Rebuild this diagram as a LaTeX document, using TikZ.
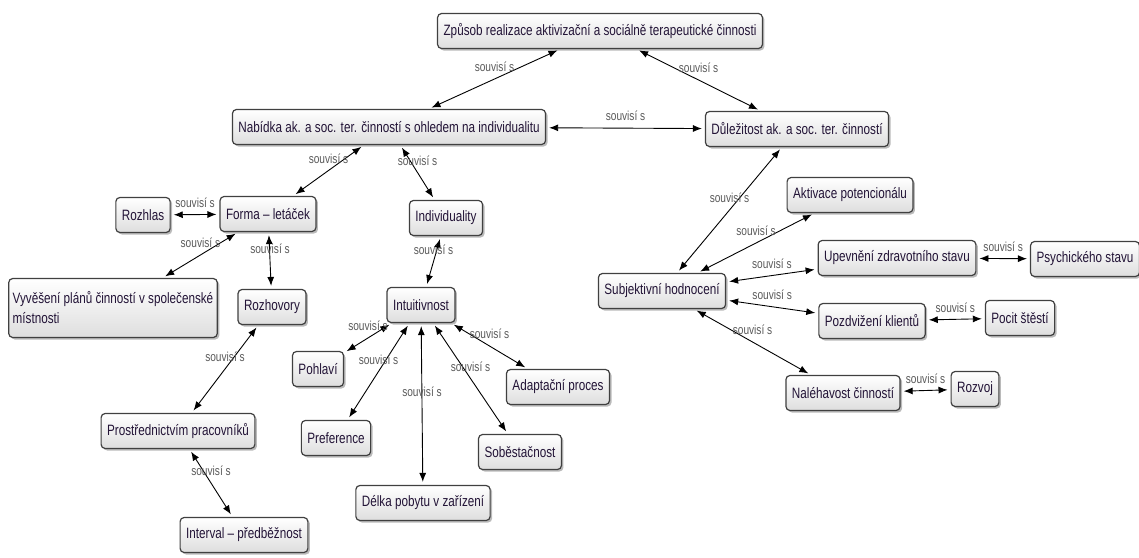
\documentclass[tikz,border=0pt]{standalone}
\usepackage{fontspec}
\setmainfont[FakeStretch=0.78]{Liberation Sans}
\usetikzlibrary{arrows.meta,shadows}

\definecolor{conceptText}{RGB}{35,20,55}

\tikzset{
	concept/.style={draw=black!75, line width=1.2pt, rounded corners=4pt,
		top color=white, bottom color=black!13,
		drop shadow={shadow xshift=2pt, shadow yshift=-2pt, opacity=0.45, fill=black!60},
		font=\fontsize{15}{18}\selectfont, text=conceptText,
		inner xsep=6pt, minimum height=35pt},
	link/.style={{Latex[length=9pt,width=7pt]}-{Latex[length=9pt,width=7pt]},
		line width=0.9pt, shorten <=3pt, shorten >=3pt},
	lbl/.style={midway, yshift=12pt, text=black!65, inner sep=1pt,
		font=\fontsize{13}{15}\selectfont}
}

\begin{document}
\begin{tikzpicture}[x=1pt, y=-1pt]
		\useasboundingbox (0,0) rectangle (1139,557);

		% Draw the concepts
		\node[concept] (zpusob) at (600,31) {Způsob realizace aktivizační a sociálně terapeutické činnosti};
		\node[concept] (nabidka) at (389,127) {Nabídka ak. a soc. ter. činností s ohledem na individualitu};
		\node[concept] (dulezitost) at (797,129) {Důležitost ak. a soc. ter. činností};

		\node[concept] (rozhlas) at (143,215) {Rozhlas};
		\node[concept] (forma) at (268,214) {Forma – letáček};
		\node[concept] (individuality) at (446,218) {Individuality};
		\node[concept, align=left, minimum width=207pt, minimum height=59pt, inner xsep=4pt,
			font=\fontsize{15}{20}\selectfont] (vyveseni) at (113,308) {Vyvěšení plánů činností v společenské\\místnosti\hfill\null};
		\node[concept] (rozhovory) at (272,307) {Rozhovory};
		\node[concept] (prostrednictvim) at (178,431) {Prostřednictvím pracovníků};
		\node[concept] (interval) at (244,535) {Interval – předběžnost};

		\node[concept] (intuitivnost) at (421,305) {Intuitivnost};
		\node[concept] (pohlavi) at (318,369) {Pohlaví};
		\node[concept] (preference) at (336,438) {Preference};
		\node[concept] (delka) at (423,503) {Délka pobytu v zařízení};
		\node[concept] (sobestacnost) at (520,452) {Soběstačnost};
		\node[concept] (adaptace) at (558,387) {Adaptační proces};

		\node[concept] (subjektivni) at (662,291) {Subjektivní hodnocení};
		\node[concept] (aktivace) at (850,195) {Aktivace potencionálu};
		\node[concept] (upevneni) at (897,258) {Upevnění zdravotního stavu};
		\node[concept] (psychicky) at (1085,259) {Psychického stavu};
		\node[concept] (pozdvizeni) at (872,321) {Pozdvižení klientů};
		\node[concept] (pocit) at (1020,318) {Pocit štěstí};
		\node[concept] (nalehavost) at (843,393) {Naléhavost činností};
		\node[concept] (rozvoj) at (975,389) {Rozvoj};

		% Draw the links at the top
		\draw[link] (zpusob) -- (nabidka) node[lbl] (l1) {souvisí s};
		\draw[link] (zpusob) -- (dulezitost) node[lbl] (l2) {souvisí s};
		\draw[link] (nabidka) -- (dulezitost) node[lbl] (l3) {souvisí s};

		% Draw the links on the left
		\draw[link] (nabidka) -- (forma) node[lbl] (l4) {souvisí s};
		\draw[link] (nabidka) -- (individuality) node[lbl] (l5) {souvisí s};
		\draw[link] (forma) -- (rozhlas) node[lbl] (l6) {souvisí s};
		\draw[link] (forma) -- (vyveseni) node[lbl] (l7) {souvisí s};
		\draw[link] (forma) -- (rozhovory) node[lbl] (l8) {souvisí s};
		\draw[link] (rozhovory) -- (prostrednictvim) node[lbl] (l9) {souvisí s};
		\draw[link] (prostrednictvim) -- (interval) node[lbl] (l10) {souvisí s};

		% Draw the links round Intuitivnost
		\draw[link] (individuality) -- (intuitivnost) node[lbl] (l11) {souvisí s};
		\draw[link] (intuitivnost) -- (pohlavi) node[lbl] (l12) {souvisí s};
		\draw[link] (intuitivnost) -- (preference) node[lbl] (l13) {souvisí s};
		\draw[link] (intuitivnost) -- (delka) node[lbl] (l14) {souvisí s};
		\draw[link] (intuitivnost) -- (sobestacnost) node[lbl] (l15) {souvisí s};
		\draw[link] (intuitivnost) -- (adaptace) node[lbl] (l16) {souvisí s};

		% Draw the links on the right
		\draw[link] (dulezitost) -- (subjektivni) node[lbl] (l17) {souvisí s};
		\draw[link] (subjektivni) -- (aktivace) node[lbl] (l18) {souvisí s};
		\draw[link] (subjektivni) -- (upevneni) node[lbl] (l19) {souvisí s};
		\draw[link] (subjektivni) -- (pozdvizeni) node[lbl] (l20) {souvisí s};
		\draw[link] (subjektivni) -- (nalehavost) node[lbl] (l21) {souvisí s};
		\draw[link] (upevneni) -- (psychicky) node[lbl] (l22) {souvisí s};
		\draw[link] (pozdvizeni) -- (pocit) node[lbl] (l23) {souvisí s};
		\draw[link] (nalehavost) -- (rozvoj) node[lbl] (l24) {souvisí s};

	\end{tikzpicture}
\end{document}
